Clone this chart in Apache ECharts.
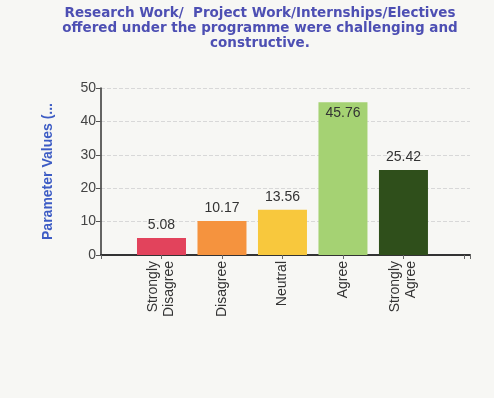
<!DOCTYPE html>
<html><head><meta charset="utf-8">
<script src="https://cdn.jsdelivr.net/npm/echarts@6/dist/echarts.min.js"></script>
<style>html,body{margin:0;padding:0;background:#f7f7f4}#c{width:494px;height:398px}</style>
</head><body><div id="c"></div>
<script>
const categories = ['Strongly\nDisagree', 'Disagree', 'Neutral', 'Agree', 'Strongly\nAgree'];
const values = [5.08, 10.17, 13.56, 45.76, 25.42];
const colors = ['#e2435c', '#f5933e', '#f8c83d', '#a5d273', '#2f4f1b'];
const yTicks = [0, 10, 20, 30, 40, 50];

const chart = echarts.init(document.getElementById('c'));
chart.setOption({
  backgroundColor: '#f7f7f4',
  animation: false,
  title: {
    text: 'Research Work/  Project Work/Internships/Electives\noffered under the programme were challenging and\nconstructive.',
    left: 255, top: 1, textAlign: 'center',
    textStyle: { fontFamily: 'DejaVu Sans', fontWeight: 'bold', fontSize: 13.5, color: '#4d4fb3', lineHeight: 15 }
  },
  grid: { left: 101, right: 24, top: 88, bottom: 143 },
  xAxis: {
    type: 'value', min: -1, max: 5.1, interval: 1,
    splitLine: { show: false },
    axisLine: { show: true, onZero: false, lineStyle: { color: '#333', width: 2 } },
    axisTick: { show: true, length: 4, lineStyle: { color: '#666' } },
    axisLabel: {
      rotate: 90, margin: 6, fontFamily: 'Liberation Sans', fontSize: 14, color: '#333', lineHeight: 16,
      formatter: v => (Number.isInteger(v) && v >= 0 && v < categories.length) ? categories[v] : ''
    }
  },
  yAxis: {
    type: 'value', min: yTicks[0], max: yTicks[yTicks.length - 1], interval: 10,
    name: 'Parameter Values (...', nameLocation: 'middle', nameGap: 46, nameRotate: 90,
    nameTextStyle: { fontFamily: 'Liberation Sans', fontWeight: 'bold', fontSize: 14, color: '#3d5cc4' },
    axisLine: { show: true, onZero: false, lineStyle: { color: '#333', width: 1.5 } },
    axisTick: { show: true, length: 5, lineStyle: { color: '#555' } },
    axisLabel: { fontFamily: 'Liberation Sans', fontSize: 14, color: '#444', margin: 5 },
    splitLine: { show: true, lineStyle: { color: '#d8d8d8', type: 'dashed', width: 1 } }
  },
  series: [{
    type: 'bar', barWidth: 49,
    data: values.map((v, i) => ({
      value: [i, v],
      itemStyle: { color: colors[i] },
      label: v > 42 ? { position: 'insideTop', distance: 4 } : undefined
    })),
    label: {
      show: true, position: 'top', distance: 6,
      fontFamily: 'Liberation Sans', fontSize: 14, color: '#333',
      formatter: p => p.value[1].toFixed(2)
    }
  }]
});
</script></body></html>
